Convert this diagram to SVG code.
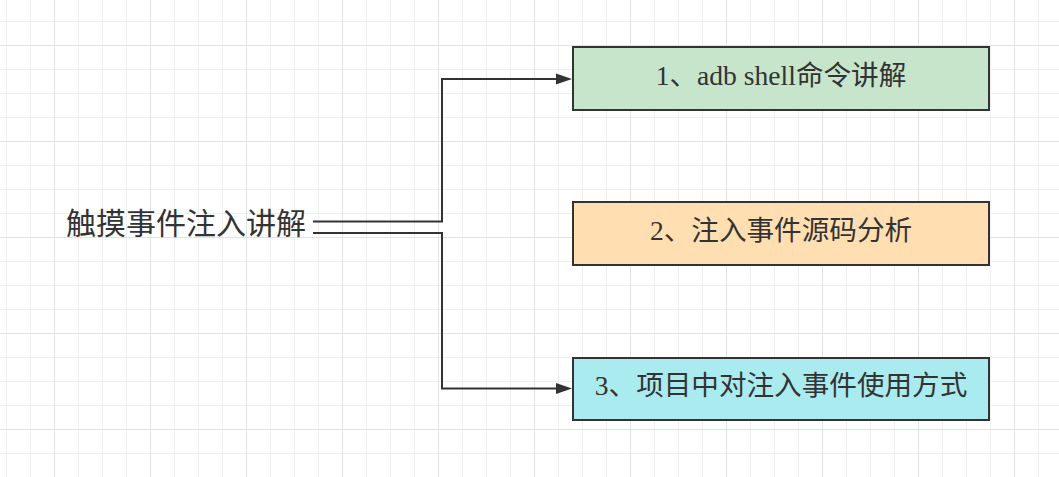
<svg xmlns="http://www.w3.org/2000/svg" width="1059" height="477" viewBox="0 0 1059 477">
<defs>
<pattern id="minor" x="6" y="-3" width="24" height="24" patternUnits="userSpaceOnUse">
<path d="M0.5 0V24M0 0.5H24" fill="none" stroke="#efefef" stroke-width="1"/>
</pattern>
<pattern id="major" x="54" y="45" width="96" height="96" patternUnits="userSpaceOnUse">
<path d="M0.5 0V96M0 0.5H96" fill="none" stroke="#e2e2e2" stroke-width="1"/>
</pattern>
</defs>
<style>
.box{stroke:#333;stroke-width:2}
.lbl{font-family:"Liberation Serif","Noto Sans CJK SC",serif;font-size:27.6px;fill:#333;text-anchor:middle;dominant-baseline:central}
.title{font-family:"Noto Sans CJK SC",sans-serif;font-size:30px;fill:#333;text-anchor:middle;dominant-baseline:central}
.conn{fill:none;stroke:#333;stroke-width:2}
.head{fill:#333}
</style>
<rect width="1059" height="477" fill="#fff"/>
<rect width="1059" height="477" fill="url(#minor)"/>
<rect width="1059" height="477" fill="url(#major)"/>
<g id="connectors">
<path class="conn" d="M313 221.5H442V79H560" />
<path class="head" d="M556 73.5L572 79L556 84.5Z"/>
<path class="conn" d="M313 233H442V388.5H560" />
<path class="head" d="M556 383L572 388.5L556 394Z"/>
</g>
<g id="root">
<text class="title" x="186" y="221">触摸事件注入讲解</text>
</g>
<g id="n1">
<rect class="box" x="573" y="47" width="416" height="63" fill="#c6e5cb"/>
<text class="lbl" x="781" y="75.5">1、adb shell命令讲解</text>
</g>
<g id="n2">
<rect class="box" x="573" y="202" width="416" height="63" fill="#ffdfb2"/>
<text class="lbl" x="781" y="230.5">2、注入事件源码分析</text>
</g>
<g id="n3">
<rect class="box" x="573" y="358" width="416" height="62" fill="#aaebf0"/>
<text class="lbl" x="781" y="385.5">3、项目中对注入事件使用方式</text>
</g>
</svg>
